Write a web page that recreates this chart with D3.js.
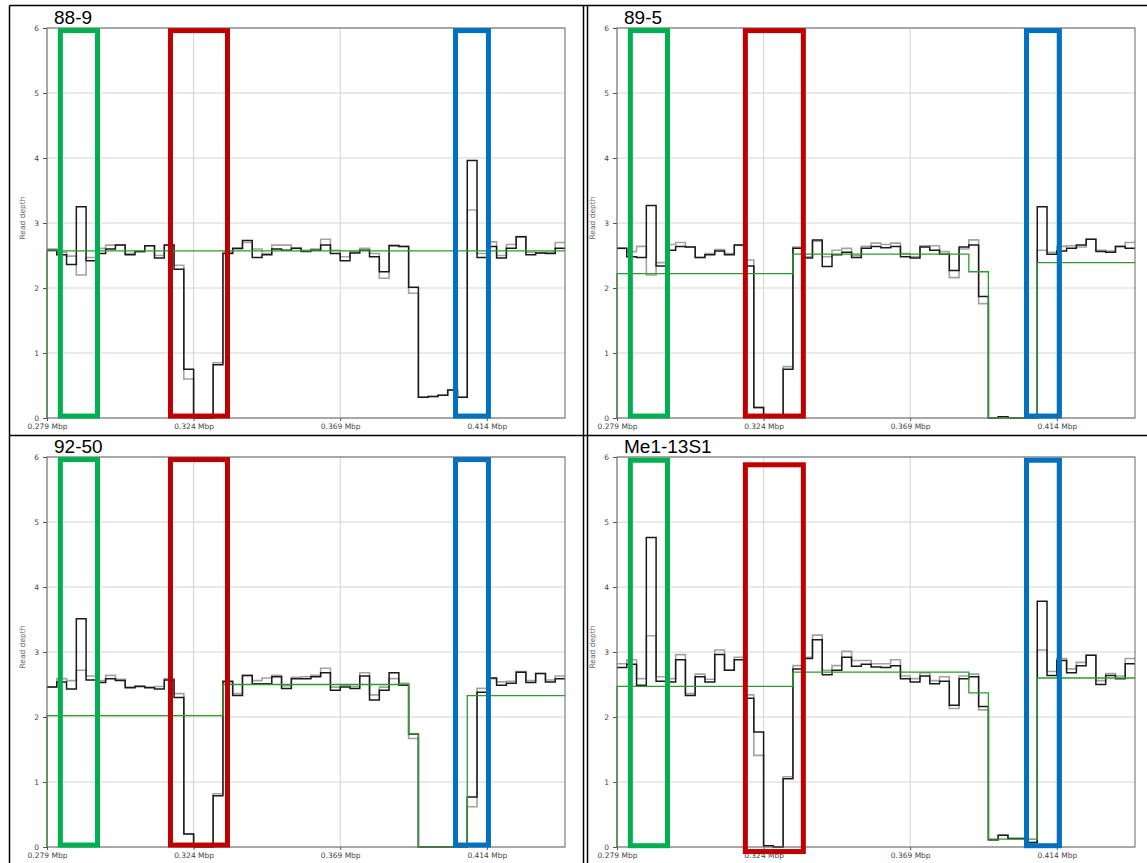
<!DOCTYPE html>
<html>
<head>
<meta charset="utf-8">
<script src="https://cdn.jsdelivr.net/npm/d3@7"></script>
<style>
  body { margin: 0; background: #fff; }
  svg { display: block; }
</style>
</head>
<body>
<script>
// bins of 3 kb starting at 0.279 Mbp, 53 bins per sample
var startMbp = 0.279, binMb = 0.003, nBins = 53;
var endMbp = startMbp + nBins * binMb;
var xTicks = [0.279, 0.324, 0.369, 0.414];
var yTicks = [0, 1, 2, 3, 4, 5, 6];

var samples = ["88-9", "89-5", "92-50", "Me1-13S1"];

// black = read depth, gray = second read depth track
var depth88_9 = [2.58, 2.51, 2.36, 3.25, 2.42, 2.53, 2.60, 2.66, 2.51, 2.56, 2.65, 2.46, 2.66, 2.29,
  0.75, 0, 0, 0.82,
  2.53, 2.61, 2.73, 2.47, 2.51, 2.60,
  2.58, 2.61, 2.56, 2.58, 2.66, 2.53, 2.42, 2.54, 2.58, 2.48, 2.25, 2.65, 2.64, 2.01,
  0.32, 0.33, 0.35, 0.43, 0.32,
  3.96, 2.47, 2.64, 2.46, 2.61, 2.79, 2.51, 2.54, 2.53, 2.61];
var gray88_9 = [2.60, 2.55, 2.49, 2.20, 2.47, 2.61, 2.66, 2.66, 2.53, 2.56, 2.65, 2.50, 2.66, 2.35,
  0.60, 0, 0, 0.85,
  2.55, 2.60, 2.70, 2.60, 2.53, 2.66,
  2.66, 2.61, 2.58, 2.60, 2.75, 2.58, 2.48, 2.56, 2.61, 2.53, 2.15, 2.66, 2.64, 1.92,
  0.32, 0.33, 0.35, 0.43, 0.32,
  3.20, 2.53, 2.71, 2.50, 2.67, 2.79, 2.55, 2.54, 2.55, 2.70];

var depth89_5 = [2.61, 2.48, 2.47, 3.27, 2.34, 2.58, 2.64, 2.63, 2.47, 2.51, 2.57, 2.51, 2.66, 2.34,
  0.16, 0.02, 0.02, 0.75,
  2.61, 2.46, 2.74, 2.33, 2.51, 2.55, 2.47,
  2.61, 2.64, 2.62, 2.64, 2.48, 2.46, 2.63, 2.58, 2.52, 2.27, 2.63, 2.66, 1.87,
  0, 0.02, 0, 0, 0,
  3.25, 2.52, 2.57, 2.61, 2.66, 2.75, 2.56, 2.55, 2.64, 2.61];
var gray89_5 = [2.61, 2.56, 2.64, 2.20, 2.39, 2.67, 2.70, 2.63, 2.47, 2.53, 2.59, 2.53, 2.66, 2.43,
  0.16, 0.02, 0.02, 0.79,
  2.63, 2.48, 2.72, 2.48, 2.58, 2.61, 2.50,
  2.64, 2.69, 2.67, 2.69, 2.53, 2.48, 2.65, 2.65, 2.56, 2.16, 2.60, 2.74, 1.76,
  0, 0.02, 0, 0, 0,
  2.58, 2.55, 2.64, 2.65, 2.63, 2.75, 2.58, 2.57, 2.64, 2.70];

var depth92_50 = [2.46, 2.54, 2.43, 3.51, 2.57, 2.53, 2.59, 2.56, 2.45, 2.47, 2.45, 2.43, 2.57, 2.30,
  0.20, 0, 0, 0.79,
  2.55, 2.33, 2.64, 2.51, 2.51, 2.62,
  2.44, 2.59, 2.59, 2.62, 2.68, 2.41, 2.46, 2.44, 2.63, 2.26, 2.41, 2.68, 2.49, 1.74,
  0, 0, 0, 0, 0,
  0.77, 2.38, 2.60, 2.49, 2.52, 2.69, 2.53, 2.67, 2.54, 2.59];
var gray92_50 = [2.46, 2.59, 2.56, 2.72, 2.63, 2.56, 2.64, 2.58, 2.46, 2.48, 2.46, 2.47, 2.59, 2.36,
  0.20, 0, 0, 0.82,
  2.53, 2.36, 2.64, 2.56, 2.60, 2.64,
  2.48, 2.61, 2.62, 2.64, 2.75, 2.46, 2.49, 2.47, 2.68, 2.34, 2.46, 2.59, 2.52, 1.67,
  0, 0, 0, 0, 0,
  0.62, 2.44, 2.59, 2.54, 2.55, 2.70, 2.56, 2.67, 2.57, 2.63];

var depthMe1 = [2.76, 2.81, 2.49, 4.76, 2.55, 2.54, 2.88, 2.33, 2.62, 2.54, 2.96, 2.72, 2.88, 2.29,
  1.77, 0.02, 0, 1.05,
  2.74, 2.90, 3.19, 2.65, 2.72, 2.92, 2.78,
  2.81, 2.77, 2.76, 2.79, 2.59, 2.54, 2.63, 2.51, 2.55, 2.18, 2.59, 2.62, 2.16,
  0.11, 0.18, 0.13, 0.13, 0.07,
  3.78, 2.64, 2.87, 2.68, 2.79, 2.95, 2.50, 2.64, 2.59, 2.82];
var grayMe1 = [2.82, 2.88, 2.59, 3.25, 2.62, 2.59, 2.96, 2.36, 2.66, 2.58, 3.03, 2.72, 2.92, 2.34,
  1.41, 0.02, 0, 1.08,
  2.79, 2.92, 3.26, 2.72, 2.79, 3.01, 2.87,
  2.87, 2.82, 2.82, 2.88, 2.63, 2.59, 2.68, 2.56, 2.62, 2.13, 2.63, 2.66, 2.11,
  0.11, 0.18, 0.13, 0.13, 0.07,
  3.03, 2.70, 2.90, 2.74, 2.84, 2.95, 2.56, 2.67, 2.63, 2.90];

// green copy-number segments: bin breaks and levels
var cnBreaks88_9 = [0, 53], cnLevels88_9 = [2.57];
var cnBreaks89_5 = [0, 18, 36, 38, 43, 53], cnLevels89_5 = [2.22, 2.52, 2.25, 0, 2.39];
var cnBreaks92_50 = [0, 18, 37, 38, 43, 53], cnLevels92_50 = [2.02, 2.50, 1.74, 0, 2.33];
var cnBreaksMe1 = [0, 18, 36, 38, 43, 53], cnLevelsMe1 = [2.47, 2.69, 2.37, 0.12, 2.60];

// highlighted regions [x0, x1, y0, y1] in Mbp / depth
var greenBoxes = [[0.2831, 0.2945, 0.03, 5.96], [0.2831, 0.2945, 0.03, 5.96], [0.2831, 0.2945, 0.03, 5.96], [0.2831, 0.2945, 0.02, 5.95]];
var redBoxes = [[0.3169, 0.3344, 0.03, 5.96], [0.3184, 0.3362, 0.03, 5.96], [0.3169, 0.3344, 0.03, 5.96], [0.3184, 0.3362, -0.07, 5.88]];
var blueBoxes = [[0.4044, 0.4145, 0.03, 5.96], [0.4047, 0.4148, 0.03, 5.96], [0.4044, 0.4145, 0.03, 5.96], [0.4047, 0.4148, 0.02, 5.95]];

var panels = [
  {name: samples[0], depth: depth88_9, gray: gray88_9, breaks: cnBreaks88_9, levels: cnLevels88_9, ox: 47, oy: 28},
  {name: samples[1], depth: depth89_5, gray: gray89_5, breaks: cnBreaks89_5, levels: cnLevels89_5, ox: 617, oy: 28},
  {name: samples[2], depth: depth92_50, gray: gray92_50, breaks: cnBreaks92_50, levels: cnLevels92_50, ox: 47, oy: 457},
  {name: samples[3], depth: depthMe1, gray: grayMe1, breaks: cnBreaksMe1, levels: cnLevelsMe1, ox: 617, oy: 457}
];

var W = 1147, H = 863;
var plotW = 518, plotH = 390;

var svg = d3.select("body").append("svg")
  .attr("width", W)
  .attr("height", H);

var x = d3.scaleLinear().domain([startMbp, endMbp]).range([0, plotW]);
var y = d3.scaleLinear().domain([0, 6]).range([plotH, 0]);

var step = d3.line()
  .x(function (d) { return x(d[0]); })
  .y(function (d) { return y(d[1]); })
  .curve(d3.curveStepAfter);

function binPoints(vals) {
  var pts = vals.map(function (v, i) { return [startMbp + i * binMb, v]; });
  pts.push([endMbp, vals[vals.length - 1]]);
  return pts;
}

function segPoints(breaks, levels) {
  var pts = [[startMbp, 0]];
  levels.forEach(function (v, i) { pts.push([startMbp + breaks[i] * binMb, v]); });
  pts.push([endMbp, levels[levels.length - 1]]);
  return pts;
}

var fontAxis = "'DejaVu Sans', sans-serif";

panels.forEach(function (p, idx) {
  var g = svg.append("g").attr("transform", "translate(" + p.ox + "," + p.oy + ")");

  // grid
  g.append("g").selectAll("line.h").data(yTicks).enter().append("line")
    .attr("x1", 0).attr("x2", plotW)
    .attr("y1", function (d) { return y(d); }).attr("y2", function (d) { return y(d); })
    .attr("stroke", "#d4d4d4").attr("stroke-width", 1);
  g.append("g").selectAll("line.v").data(xTicks).enter().append("line")
    .attr("y1", 0).attr("y2", plotH)
    .attr("x1", function (d) { return x(d); }).attr("x2", function (d) { return x(d); })
    .attr("stroke", "#d4d4d4").attr("stroke-width", 1);

  // axes
  var ya = g.append("g")
    .call(d3.axisLeft(y).tickValues(yTicks).tickFormat(d3.format("d")).tickSize(4).tickPadding(4));
  var xa = g.append("g")
    .attr("transform", "translate(0," + plotH + ")")
    .call(d3.axisBottom(x).tickValues(xTicks)
      .tickFormat(function (d) { return d.toFixed(3) + " Mbp"; })
      .tickSize(3).tickPadding(3));
  [ya, xa].forEach(function (a) {
    a.select(".domain").remove();
    a.selectAll(".tick line").attr("stroke", "#555");
    a.selectAll(".tick text").attr("fill", "#444")
      .style("font-family", fontAxis).style("font-size", "7.5px");
  });

  g.append("text")
    .attr("transform", "translate(-22," + (plotH / 2 - 5) + ") rotate(-90)")
    .attr("text-anchor", "middle")
    .attr("fill", "#666")
    .style("font-family", fontAxis)
    .style("font-size", "7.5px")
    .text("Read depth");

  // tracks
  g.append("path").attr("d", step(binPoints(p.gray)))
    .attr("fill", "none").attr("stroke", "#a3a3a3").attr("stroke-width", 1.6);
  g.append("path").attr("d", step(binPoints(p.depth)))
    .attr("fill", "none").attr("stroke", "#1a1a1a").attr("stroke-width", 1.5);
  g.append("path").attr("d", step(segPoints(p.breaks, p.levels)))
    .attr("fill", "none").attr("stroke", "#2e9a2e").attr("stroke-width", 1.3);

  // spines
  g.append("rect")
    .attr("x", 0).attr("y", 0).attr("width", plotW).attr("height", plotH)
    .attr("fill", "none").attr("stroke", "#666").attr("stroke-width", 1);

  // highlight boxes
  var boxes = [[greenBoxes[idx], "#00b050"], [redBoxes[idx], "#c00000"], [blueBoxes[idx], "#0070c0"]];
  boxes.forEach(function (b) {
    var r = b[0];
    g.append("rect")
      .attr("x", x(r[0])).attr("y", y(r[3]))
      .attr("width", x(r[1]) - x(r[0]))
      .attr("height", y(r[2]) - y(r[3]))
      .attr("fill", "none")
      .attr("stroke", b[1])
      .attr("stroke-width", 5);
  });

  // sample label
  svg.append("text")
    .attr("x", p.ox + 7)
    .attr("y", p.oy - 4)
    .attr("fill", "#000")
    .style("font-family", "'Liberation Sans', Arial, sans-serif")
    .style("font-size", "19px")
    .text(p.name);
});

// frame lines around the four panels
var frame = svg.append("g").attr("stroke", "#000").attr("stroke-width", 1.5);
frame.append("line").attr("x1", 9.5).attr("x2", W).attr("y1", 5.5).attr("y2", 5.5);
frame.append("line").attr("x1", 9.5).attr("x2", W).attr("y1", 435.5).attr("y2", 435.5);
frame.append("line").attr("x1", 9.5).attr("x2", 9.5).attr("y1", 5.5).attr("y2", H);
frame.append("line").attr("x1", 583.5).attr("x2", 583.5).attr("y1", 5.5).attr("y2", H);
frame.append("line").attr("x1", 587.5).attr("x2", 587.5).attr("y1", 5.5).attr("y2", H);
</script>
</body>
</html>
